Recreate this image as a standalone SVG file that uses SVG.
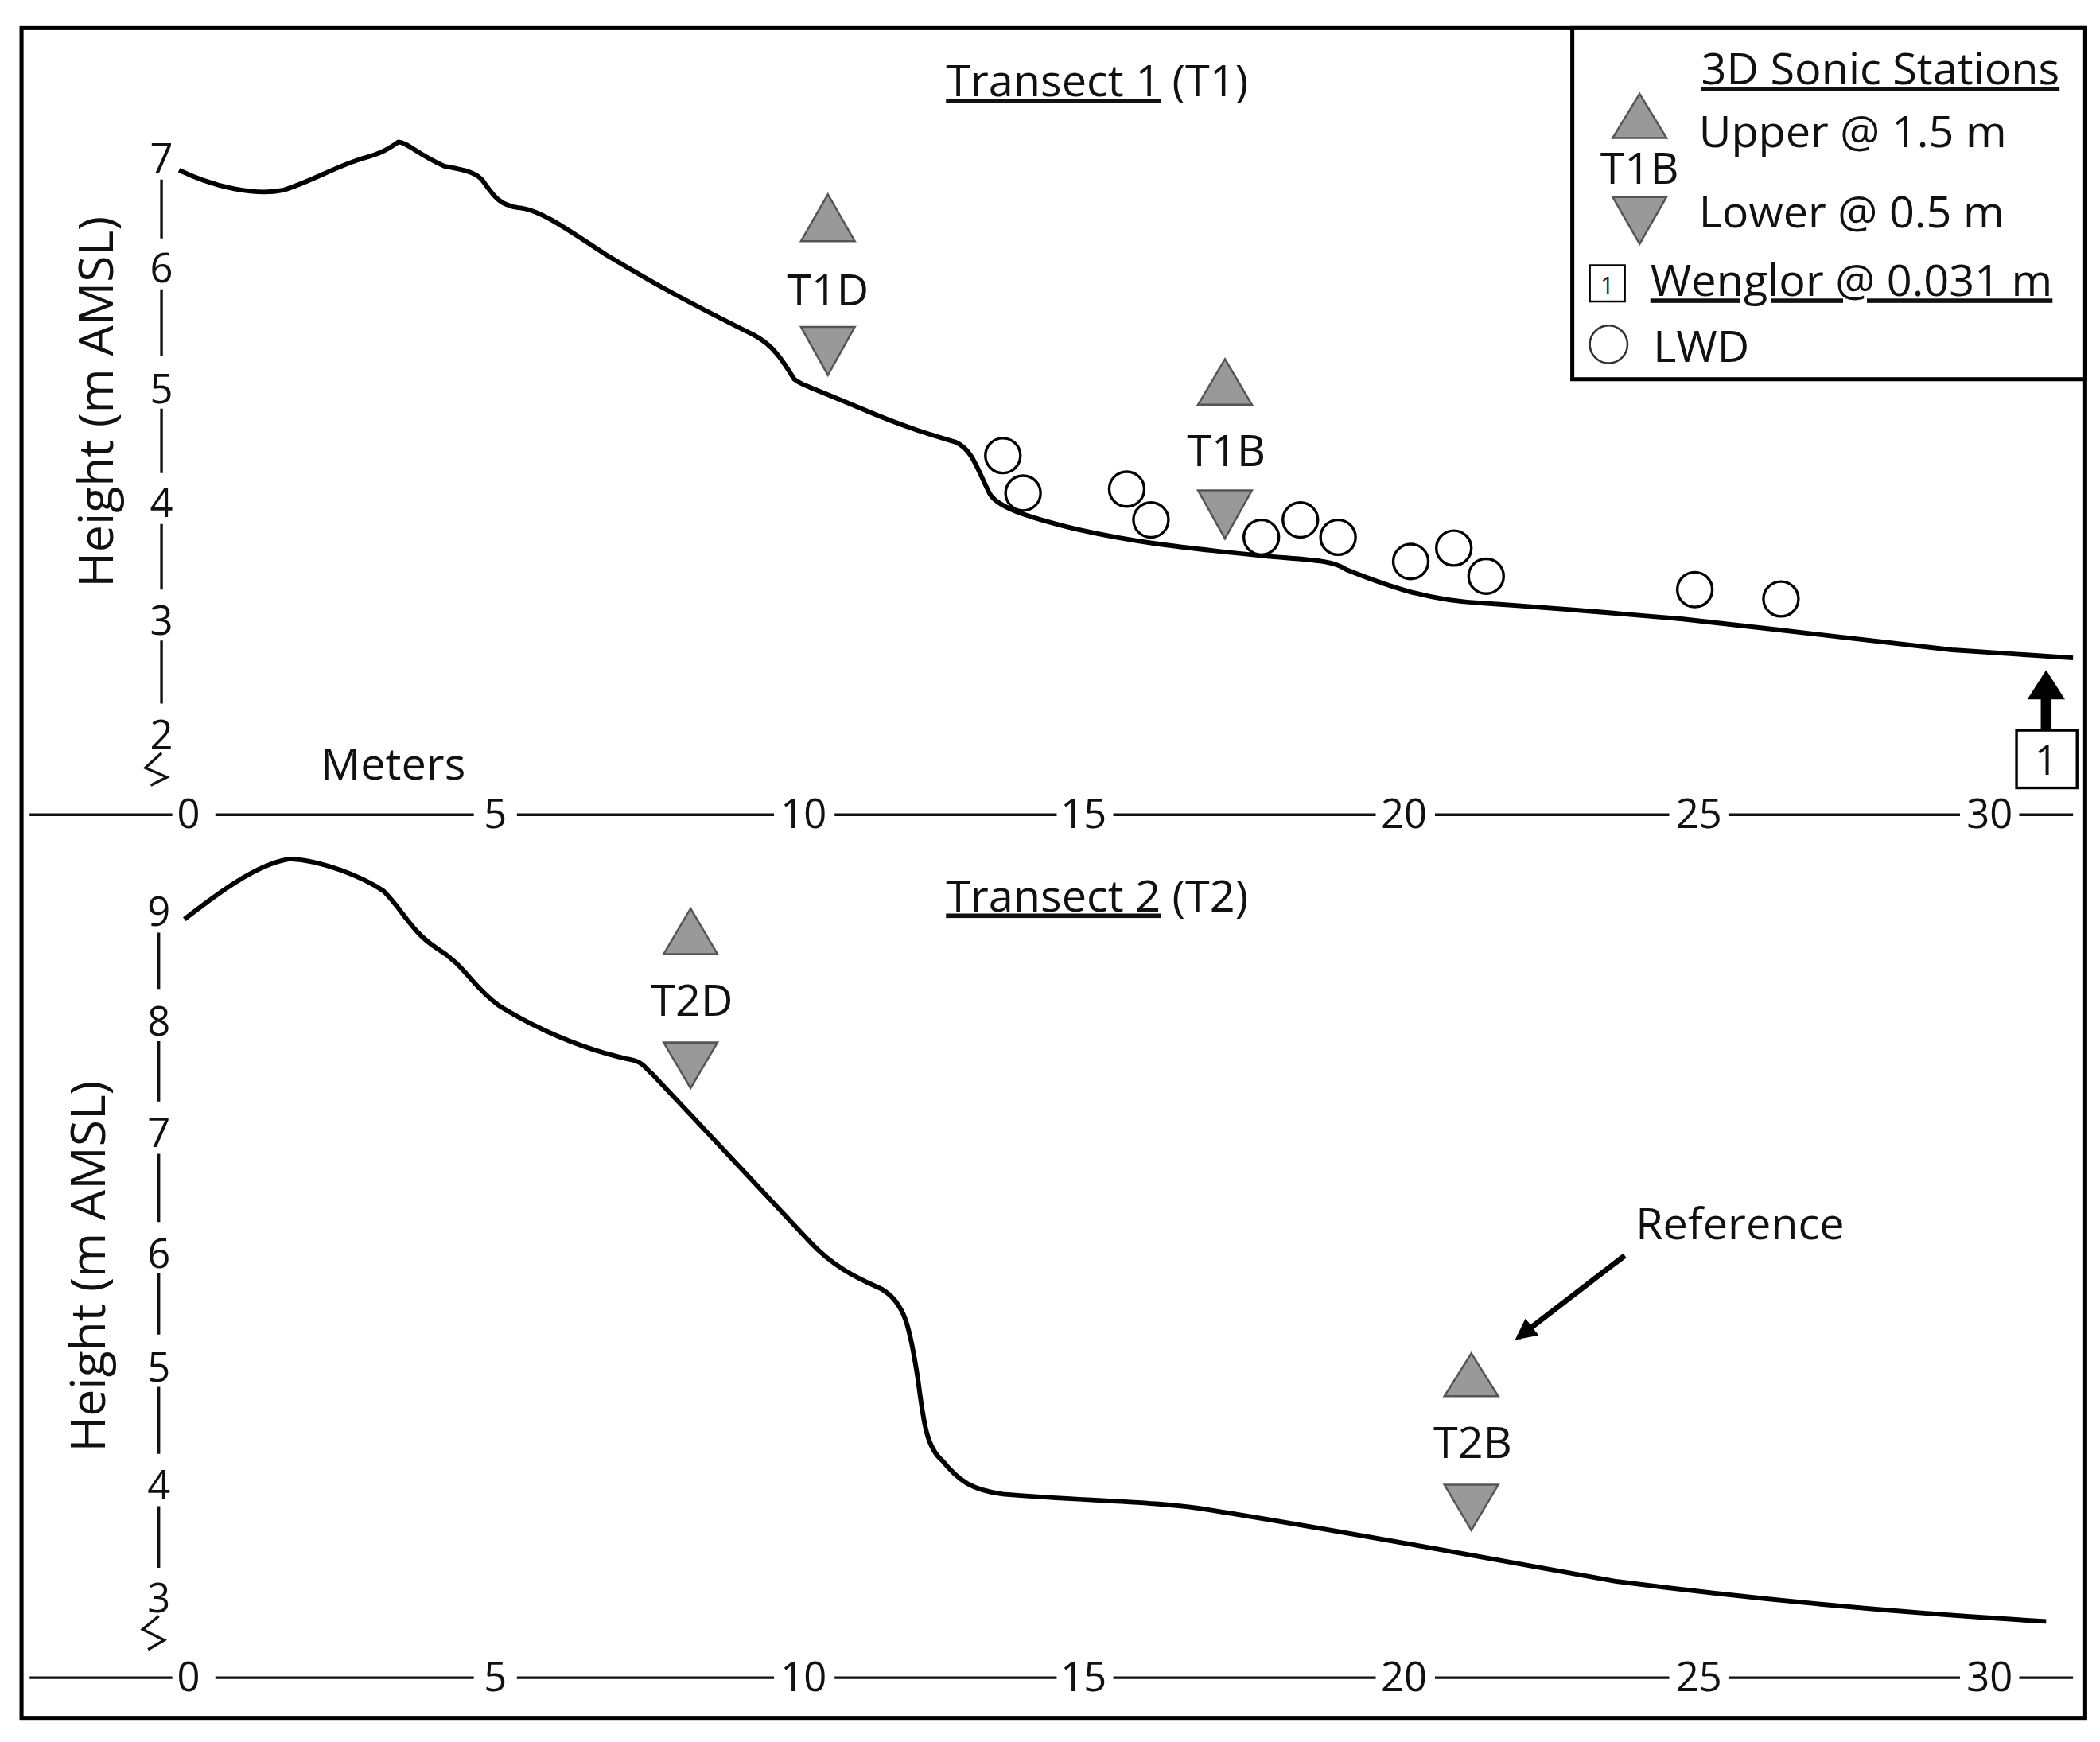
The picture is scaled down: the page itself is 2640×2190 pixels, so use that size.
<svg xmlns="http://www.w3.org/2000/svg" width="2640" height="2190" viewBox="0 0 2640 2190">
<style>
text{font-family:"Open Sans","Liberation Sans",sans-serif;fill:#111}
.t{font-size:33px}
.k{font-size:30px;text-anchor:middle}
.u{text-decoration:underline}
.ax{stroke:#111;stroke-width:2;fill:none}
.pr{stroke:#000;stroke-width:3.5;fill:none;stroke-linejoin:round}
.tri{fill:#999;stroke:#555;stroke-width:1.5}
.c{fill:#fff;stroke:#000;stroke-width:2}
</style>
<defs>
<marker id="ah" viewBox="0 0 10 10" refX="8" refY="5" markerWidth="4" markerHeight="4" orient="auto"><path d="M0,0L10,5L0,10z" fill="#000"/></marker>
</defs>
<rect width="2640" height="2190" fill="#fff"/>
<g transform="scale(1.6923 1.6846)">
<rect x="16" y="21" width="1533" height="1261" fill="none" stroke="#000" stroke-width="3"/>
<g id="axes">
<path class="ax" d="M22,608H128M160,608H352M384,608H575M620,608H785M827,608H1022M1066,608H1240M1284,608H1456M1500,608H1540"/>
<path class="ax" d="M22,1252H128M160,1252H352M384,1252H575M620,1252H785M827,1252H1022M1066,1252H1240M1284,1252H1456M1500,1252H1540"/>
<g class="k"><text x="140" y="618">0</text><text x="368" y="618">5</text><text x="597" y="618">10</text><text x="805" y="618">15</text><text x="1043" y="618">20</text><text x="1262" y="618">25</text><text x="1478" y="618">30</text>
<text x="140" y="1262">0</text><text x="368" y="1262">5</text><text x="597" y="1262">10</text><text x="805" y="1262">15</text><text x="1043" y="1262">20</text><text x="1262" y="1262">25</text><text x="1478" y="1262">30</text>
<text x="120" y="129">7</text><text x="120" y="211">6</text><text x="120" y="301">5</text><text x="120" y="386">4</text><text x="120" y="474">3</text><text x="120" y="559">2</text>
<text x="118" y="691">9</text><text x="118" y="773">8</text><text x="118" y="856">7</text><text x="118" y="946">6</text><text x="118" y="1031">5</text><text x="118" y="1119">4</text><text x="118" y="1203">3</text></g>
<path class="ax" d="M120,134V178M120,216V266M120,305V353M120,391V440M120,478V525M120,562L108,573L124,580L112,586"/>
<path class="ax" d="M118,696V738M118,777V822M118,861V912M118,950V996M118,1035V1085M118,1124V1170M118,1206L106,1216L122,1224L110,1231"/>
<text transform="translate(84,300) rotate(-90)" text-anchor="middle" font-size="36">Height (m AMSL)</text>
<text transform="translate(78,945) rotate(-90)" text-anchor="middle" font-size="36">Height (m AMSL)</text>
<text class="t" x="292" y="582" text-anchor="middle">Meters</text>
</g>
<g id="titles">
<text class="t" x="815" y="72" text-anchor="middle"><tspan class="u">Transect 1</tspan> (T1)</text>
<text class="t" x="815" y="680" text-anchor="middle"><tspan class="u">Transect 2</tspan> (T2)</text>
</g>
<g id="profile1"><path class="pr" d="M133,127C160,140 190,146 210,142C230,136 250,124 270,118C285,114 290,110 296,106C302,106 310,115 330,124C345,127 352,128 358,134C366,145 370,153 385,155C400,156 420,170 450,190C480,208 500,220 560,250C575,258 582,270 590,283C595,287 600,288 640,305C670,318 690,324 710,330C722,335 726,350 735,368C740,378 760,385 800,395C840,404 870,408 940,415C975,418 990,418 1000,425C1030,437 1060,448 1100,450C1130,452 1160,454 1250,462C1320,470 1350,473 1450,485L1540,491"/></g>
<g id="profile2"><path class="pr" d="M137,686C160,668 190,645 215,641C240,642 270,655 285,665C300,680 305,695 325,708C345,720 350,735 370,750C395,766 430,782 465,790C478,792 478,796 485,802L530,850L600,925C620,947 640,955 655,962C672,972 676,990 682,1030C686,1060 688,1080 700,1090C712,1105 722,1112 745,1115C800,1120 860,1120 900,1127C1000,1143 1100,1162 1200,1180C1300,1193 1400,1203 1520,1210"/></g>
<g id="T1D"><path class="tri" d="M615,145L635,180H595z"/><text class="t" x="615" y="228" text-anchor="middle">T1D</text><path class="tri" d="M595,244H635L615,280z"/></g>
<g id="T1B"><path class="tri" d="M910,268L930,302H890z"/><text class="t" x="911" y="348" text-anchor="middle">T1B</text><path class="tri" d="M890,366H930L910,402z"/></g>
<g id="T2D"><path class="tri" d="M513,678L533,712H493z"/><text class="t" x="514" y="758" text-anchor="middle">T2D</text><path class="tri" d="M493,778H533L513,812z"/></g>
<g id="T2B"><path class="tri" d="M1093,1010L1113,1042H1073z"/><text class="t" x="1094" y="1088" text-anchor="middle">T2B</text><path class="tri" d="M1073,1108H1113L1093,1142z"/></g>
<g id="lwd">
<circle class="c" cx="745" cy="340" r="13"/><circle class="c" cx="760" cy="368" r="13"/><circle class="c" cx="837" cy="365" r="13"/><circle class="c" cx="855" cy="388" r="13"/><circle class="c" cx="937" cy="401" r="13"/><circle class="c" cx="966" cy="388" r="13"/><circle class="c" cx="994" cy="401" r="13"/><circle class="c" cx="1048" cy="419" r="13"/><circle class="c" cx="1080" cy="409" r="13"/><circle class="c" cx="1104" cy="430" r="13"/><circle class="c" cx="1259" cy="440" r="13"/><circle class="c" cx="1323" cy="447" r="13"/>
</g>
<g id="wenglor">
<line x1="1520" y1="545" x2="1520" y2="520" stroke="#000" stroke-width="8"/>
<path d="M1506,522L1520,500L1534,522z" fill="#000"/>
<rect x="1498" y="545" width="45" height="43" fill="#fff" stroke="#000" stroke-width="2"/>
<text class="k" x="1520" y="578">1</text>
</g>
<g id="reference">
<text class="t" x="1215" y="925">Reference</text>
<line x1="1207" y1="937" x2="1128" y2="998" stroke="#000" stroke-width="4" marker-end="url(#ah)"/>
</g>
<g id="legend">
<rect x="1168" y="21" width="381" height="262" fill="#fff" stroke="#000" stroke-width="3"/>
<text class="t u" x="1530" y="63" text-anchor="end" font-size="29">3D Sonic Stations</text>
<path class="tri" d="M1218,70L1238,103H1198z"/>
<text class="t" x="1218" y="137" text-anchor="middle">T1B</text>
<path class="tri" d="M1198,147H1238L1218,182z"/>
<text class="t" x="1262" y="110" font-size="29">Upper @ 1.5 m</text>
<text class="t" x="1262" y="170" font-size="29">Lower @ 0.5 m</text>
<rect x="1181" y="198" width="26" height="27" fill="#fff" stroke="#000" stroke-width="1.5"/>
<text x="1194" y="219" font-size="17" text-anchor="middle">1</text>
<text class="t u" x="1226" y="221" font-size="29">Wenglor @ 0.031 m</text>
<circle cx="1195" cy="257" r="14" fill="#fff" stroke="#333" stroke-width="1.5"/>
<text class="t" x="1228" y="270" font-size="29">LWD</text>
</g>
</g>
</svg>
